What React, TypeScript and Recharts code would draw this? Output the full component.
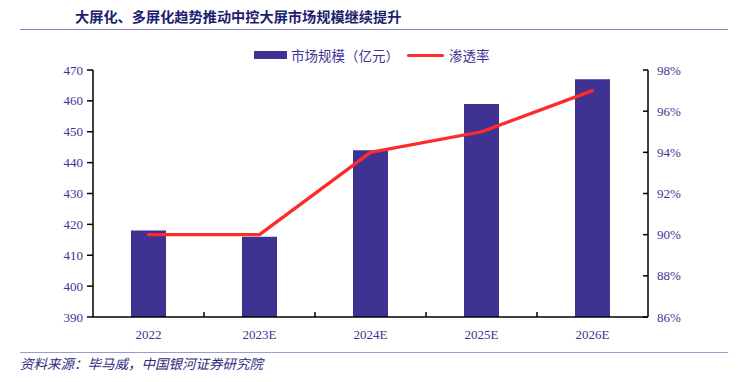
import { Bar, ComposedChart, Legend, Line, XAxis, YAxis } from "recharts";

const years = ["2022", "2023E", "2024E", "2025E", "2026E"];
const marketSize = [418, 416, 444, 459, 467];
const penetration = [90, 90, 94, 95, 97];
const leftTicks = [390, 400, 410, 420, 430, 440, 450, 460, 470];
const rightTicks = [86, 88, 90, 92, 94, 96, 98];

const data = years.map((year, i) => ({
  year,
  size: marketSize[i],
  rate: penetration[i],
}));

const BAR = "#3E3393";
const RED = "#FF2A2A";
const LABEL = "#3F3494";
const SERIF = '"Liberation Serif", "Times New Roman", serif';
const CJK = '"Noto Sans CJK SC", sans-serif';

function XTick(props: any) {
  const { x, y, payload, index, visibleTicksCount, width } = props;
  const band = Number(width) / visibleTicksCount;
  const axisY = y - 10;
  return (
    <g>
      {index < visibleTicksCount - 1 && !Number.isNaN(band) && (
        <line x1={x + band / 2} x2={x + band / 2} y1={axisY} y2={axisY - 5} stroke="#000" strokeWidth={1.5} />
      )}
      <text x={x} y={y} dy={12} textAnchor="middle" fill={LABEL} fontSize={13} fontFamily={SERIF}>
        {payload.value}
      </text>
    </g>
  );
}

function RightTick(props: any) {
  const { x, y, payload } = props;
  return (
    <g>
      <line x1={x - 14} x2={x - 9} y1={y} y2={y} stroke="#000" strokeWidth={1.5} />
      <text x={x} y={y} dy={4.5} textAnchor="start" fill={LABEL} fontSize={13} fontFamily={SERIF}>
        {`${payload.value}%`}
      </text>
    </g>
  );
}

function LegendBox() {
  return (
    <div style={{ display: "flex", alignItems: "center", fontFamily: CJK, fontSize: 13.5, color: LABEL, whiteSpace: "nowrap" }}>
      <span style={{ display: "inline-block", width: 33, height: 8, background: BAR, marginRight: 4 }} />
      <span>市场规模（亿元）</span>
      <span style={{ display: "inline-block", width: 37, height: 3, background: RED, marginLeft: 8, marginRight: 5, borderRadius: 2 }} />
      <span>渗透率</span>
    </div>
  );
}

export default function App() {
  return (
    <div style={{ position: "absolute", left: 0, top: 0, width: 750, height: 382, background: "#fff", overflow: "hidden" }}>
      <div
        style={{
          position: "absolute",
          left: 75,
          top: 6,
          fontFamily: CJK,
          fontWeight: 700,
          fontSize: 14.2,
          color: "#1E1E6E",
          whiteSpace: "nowrap",
        }}
      >
        大屏化、多屏化趋势推动中控大屏市场规模继续提升
      </div>
      <div style={{ position: "absolute", left: 20, top: 29, width: 708, height: 1, background: "#8A86C8" }} />

      <ComposedChart width={750} height={382} data={data} margin={{ top: 70, right: 10, bottom: 35, left: 10 }}>
        <XAxis
          dataKey="year"
          height={30}
          tickSize={0}
          tickMargin={10}
          tick={<XTick />}
          axisLine={{ stroke: "#000", strokeWidth: 1.5 }}
        />
        <YAxis
          yAxisId="left"
          width={83}
          domain={[390, 470]}
          ticks={leftTicks}
          allowDataOverflow
          tickSize={6}
          tickMargin={4}
          tickLine={{ stroke: "#000", strokeWidth: 1.5 }}
          axisLine={{ stroke: "#000", strokeWidth: 1.5 }}
          tick={{ fill: LABEL, fontSize: 13, fontFamily: SERIF }}
        />
        <YAxis
          yAxisId="right"
          orientation="right"
          width={92}
          domain={[86, 98]}
          ticks={rightTicks}
          tickSize={0}
          tickMargin={9}
          tickLine={false}
          axisLine={{ stroke: "#000", strokeWidth: 1.5 }}
          tick={<RightTick />}
        />
        <Legend
          layout="horizontal"
          verticalAlign="middle"
          align="center"
          wrapperStyle={{ top: 45, left: 254, width: "auto" }}
          content={() => <LegendBox />}
        />
        <Bar yAxisId="left" dataKey="size" name="市场规模（亿元）" fill={BAR} barSize={35} isAnimationActive={false} />
        <Line
          yAxisId="right"
          type="linear"
          dataKey="rate"
          name="渗透率"
          stroke={RED}
          strokeWidth={3.3}
          strokeLinejoin="round"
          strokeLinecap="round"
          dot={false}
          isAnimationActive={false}
        />
      </ComposedChart>

      <div style={{ position: "absolute", left: 20, top: 352, width: 708, height: 1, background: "#9C98DC" }} />
      <div
        style={{
          position: "absolute",
          left: 20,
          top: 353,
          fontFamily: CJK,
          fontStyle: "italic",
          fontSize: 13.5,
          color: "#2E2A7E",
          whiteSpace: "nowrap",
        }}
      >
        资料来源：毕马威，中国银河证券研究院
      </div>
    </div>
  );
}
